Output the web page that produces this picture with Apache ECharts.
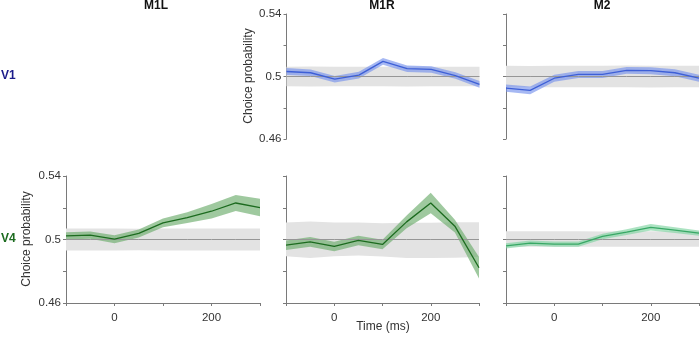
<!DOCTYPE html>
<html>
<head>
<meta charset="utf-8">
<script src="https://cdn.jsdelivr.net/npm/echarts@6/dist/echarts.min.js"></script>
<style>html,body{margin:0;padding:0;background:#fff;}#c{width:700px;height:338px;}</style>
</head>
<body>
<div id="c"></div>
<script>
// ---- data ----
const timeLabels = ['-100','-50','0','50','100','150','200','250','300'];
const xShownLabels = ['0','200'];
const yShownLabels = ['0.46','0.5','0.54'];
const columnTitles = ['M1L','M1R','M2'];
const rowTitles = ['V1','V4'];

// V1 - M1R
const v1m1rMean = [0.5032,0.5024,0.4983,0.5009,0.5097,0.5050,0.5045,0.5006,0.4950];
const v1m1rLo   = [0.5010,0.5003,0.4962,0.4988,0.5075,0.5029,0.5024,0.4985,0.4928];
const v1m1rHi   = [0.5054,0.5045,0.5004,0.5030,0.5119,0.5071,0.5066,0.5027,0.4972];
const v1m1rNullLo = [0.4937,0.4936,0.4937,0.4938,0.4937,0.4936,0.4937,0.4937,0.4937];
const v1m1rNullHi = [0.5063,0.5064,0.5063,0.5062,0.5063,0.5064,0.5063,0.5063,0.5063];

// V1 - M2
const v1m2Mean = [0.4926,0.4911,0.4989,0.5013,0.5013,0.5039,0.5037,0.5024,0.4989];
const v1m2Lo   = [0.4903,0.4886,0.4967,0.4991,0.4991,0.5017,0.5015,0.5002,0.4967];
const v1m2Hi   = [0.4949,0.4936,0.5011,0.5035,0.5035,0.5061,0.5059,0.5046,0.5011];
const v1m2NullLo = [0.4931,0.4931,0.4932,0.4931,0.4931,0.4931,0.4930,0.4931,0.4931];
const v1m2NullHi = [0.5069,0.5068,0.5069,0.5069,0.5069,0.5070,0.5069,0.5069,0.5069];

// V4 - M1L
const v4m1lMean = [0.5023,0.5027,0.5002,0.5038,0.5105,0.5138,0.5178,0.5230,0.5201];
const v4m1lLo   = [0.5000,0.5004,0.4977,0.5013,0.5077,0.5104,0.5133,0.5180,0.5146];
const v4m1lHi   = [0.5046,0.5050,0.5027,0.5063,0.5133,0.5172,0.5223,0.5280,0.5256];
const v4m1lNullLo = [0.4931,0.4931,0.4931,0.4932,0.4931,0.4931,0.4931,0.4931,0.4931];
const v4m1lNullHi = [0.5069,0.5069,0.5069,0.5068,0.5069,0.5069,0.5069,0.5069,0.5069];

// V4 - M1R
const v4m1rMean = [0.4964,0.4985,0.4956,0.4994,0.4969,0.5111,0.5230,0.5084,0.4822];
const v4m1rLo   = [0.4934,0.4955,0.4926,0.4964,0.4939,0.5071,0.5165,0.5044,0.4754];
const v4m1rHi   = [0.4994,0.5015,0.4986,0.5024,0.4999,0.5151,0.5295,0.5124,0.4890];
const v4m1rNullLo = [0.4895,0.4883,0.4895,0.4899,0.4893,0.4883,0.4883,0.4885,0.4889];
const v4m1rNullHi = [0.5107,0.5113,0.5107,0.5107,0.5103,0.5105,0.5105,0.5109,0.5109];

// V4 - M2
const v4m2Mean = [0.4960,0.4977,0.4971,0.4971,0.5019,0.5046,0.5077,0.5059,0.5040];
const v4m2Lo   = [0.4943,0.4960,0.4954,0.4954,0.5002,0.5028,0.5057,0.5041,0.5023];
const v4m2Hi   = [0.4977,0.4994,0.4988,0.4988,0.5036,0.5064,0.5097,0.5077,0.5057];
const v4m2NullLo = [0.4954,0.4954,0.4954,0.4954,0.4955,0.4954,0.4954,0.4954,0.4954];
const v4m2NullHi = [0.5052,0.5052,0.5052,0.5052,0.5051,0.5052,0.5052,0.5052,0.5052];

const chanceLevel = [0.5,0.5,0.5,0.5,0.5,0.5,0.5,0.5,0.5];

// ---- layout / style ----
const FONT = '"Liberation Sans", Arial, sans-serif';
const AX = '#7a7a7a';
const panels = [
  {grid:{left:286.5,top:14,width:193,height:125}, mean:v1m1rMean, lo:v1m1rLo, hi:v1m1rHi, nlo:v1m1rNullLo, nhi:v1m1rNullHi,
   line:'#3d5fd6', fill:'rgba(118,146,236,0.65)', yLabels:true, xAxisShow:false},
  {grid:{left:506,top:14,width:193,height:125}, mean:v1m2Mean, lo:v1m2Lo, hi:v1m2Hi, nlo:v1m2NullLo, nhi:v1m2NullHi,
   line:'#3d5fd6', fill:'rgba(118,146,236,0.65)', yLabels:false, xAxisShow:false},
  {grid:{left:66,top:176,width:194,height:127}, mean:v4m1lMean, lo:v4m1lLo, hi:v4m1lHi, nlo:v4m1lNullLo, nhi:v4m1lNullHi,
   line:'#1c6b1f', fill:'rgba(108,172,108,0.65)', yLabels:true, xAxisShow:true},
  {grid:{left:286,top:176,width:193,height:127}, mean:v4m1rMean, lo:v4m1rLo, hi:v4m1rHi, nlo:v4m1rNullLo, nhi:v4m1rNullHi,
   line:'#1c6b1f', fill:'rgba(108,172,108,0.65)', yLabels:false, xAxisShow:true},
  {grid:{left:506,top:176,width:193,height:127}, mean:v4m2Mean, lo:v4m2Lo, hi:v4m2Hi, nlo:v4m2NullLo, nhi:v4m2NullHi,
   line:'#38a865', fill:'rgba(128,212,162,0.65)', yLabels:false, xAxisShow:true}
];

const grids = [], xAxes = [], yAxes = [], series = [];
panels.forEach((p, i) => {
  grids.push(Object.assign({containLabel:false}, p.grid));
  xAxes.push({
    type:'category', gridIndex:i, data:timeLabels, boundaryGap:false,
    axisLine:{show:p.xAxisShow, lineStyle:{color:AX, width:1}},
    axisTick:{show:p.xAxisShow, length:3, interval:(idx)=>idx%2===0, lineStyle:{color:AX}},
    axisLabel:{show:p.xAxisShow, interval:(idx, v)=>xShownLabels.indexOf(v)>=0, margin:9,
               color:'#333', fontSize:11.5, fontFamily:FONT},
    splitLine:{show:false}
  });
  yAxes.push({
    type:'value', gridIndex:i, min:0.46, max:0.54, interval:0.02,
    axisLine:{show:true, lineStyle:{color:AX, width:1}},
    axisTick:{show:true, length:3, lineStyle:{color:AX}},
    axisLabel:{show:p.yLabels, margin:5, color:'#333', fontSize:11.5, fontFamily:FONT,
      formatter:(v)=>{ const s = String(Math.round(v*100)/100); return yShownLabels.indexOf(s)>=0 ? s : ''; }},
    splitLine:{show:false}
  });
  const base = {type:'line', xAxisIndex:i, yAxisIndex:i, symbol:'none', silent:true, animation:false};
  // null distribution band
  series.push(Object.assign({}, base, {stack:'null'+i, data:p.nlo, lineStyle:{opacity:0}}));
  series.push(Object.assign({}, base, {stack:'null'+i, data:p.nhi.map((h,k)=>h-p.nlo[k]),
    lineStyle:{opacity:0}, areaStyle:{color:'#e3e3e3', opacity:1}}));
  // chance line
  series.push(Object.assign({}, base, {data:chanceLevel, lineStyle:{color:'#969696', width:1}}));
  // confidence band
  series.push(Object.assign({}, base, {stack:'ci'+i, data:p.lo, lineStyle:{opacity:0}}));
  series.push(Object.assign({}, base, {stack:'ci'+i, data:p.hi.map((h,k)=>h-p.lo[k]),
    lineStyle:{opacity:0}, areaStyle:{color:p.fill, opacity:1}}));
  // mean line
  series.push(Object.assign({}, base, {data:p.mean, lineStyle:{color:p.line, width:1.3}}));
});

const txt = (text, x, y, opts) => Object.assign({type:'text', x:x, y:y, silent:true,
  style:Object.assign({text:text, fill:'#222', font:'12px '+FONT, align:'center', verticalAlign:'middle'}, opts||{})});

const graphic = [
  txt(columnTitles[0], 156, 6, {font:'bold 12px '+FONT, fill:'#111'}),
  txt(columnTitles[1], 382, 6, {font:'bold 12px '+FONT, fill:'#111'}),
  txt(columnTitles[2], 602, 6, {font:'bold 12px '+FONT, fill:'#111'}),
  txt(rowTitles[0], 1, 76, {font:'bold 12px '+FONT, fill:'#1b1b8a', align:'left'}),
  txt(rowTitles[1], 1, 239, {font:'bold 12px '+FONT, fill:'#1c6b1f', align:'left'}),
  Object.assign(txt('Choice probability', 249, 76, {fill:'#333'}), {rotation:Math.PI/2}),
  Object.assign(txt('Choice probability', 27, 239, {fill:'#333'}), {rotation:Math.PI/2}),
  txt('Time (ms)', 383, 327, {fill:'#333'})
];

const chart = echarts.init(document.getElementById('c'), null, {renderer:'canvas'});
chart.setOption({
  animation:false,
  backgroundColor:'#ffffff',
  grid:grids, xAxis:xAxes, yAxis:yAxes, series:series, graphic:graphic
});
</script>
</body>
</html>
